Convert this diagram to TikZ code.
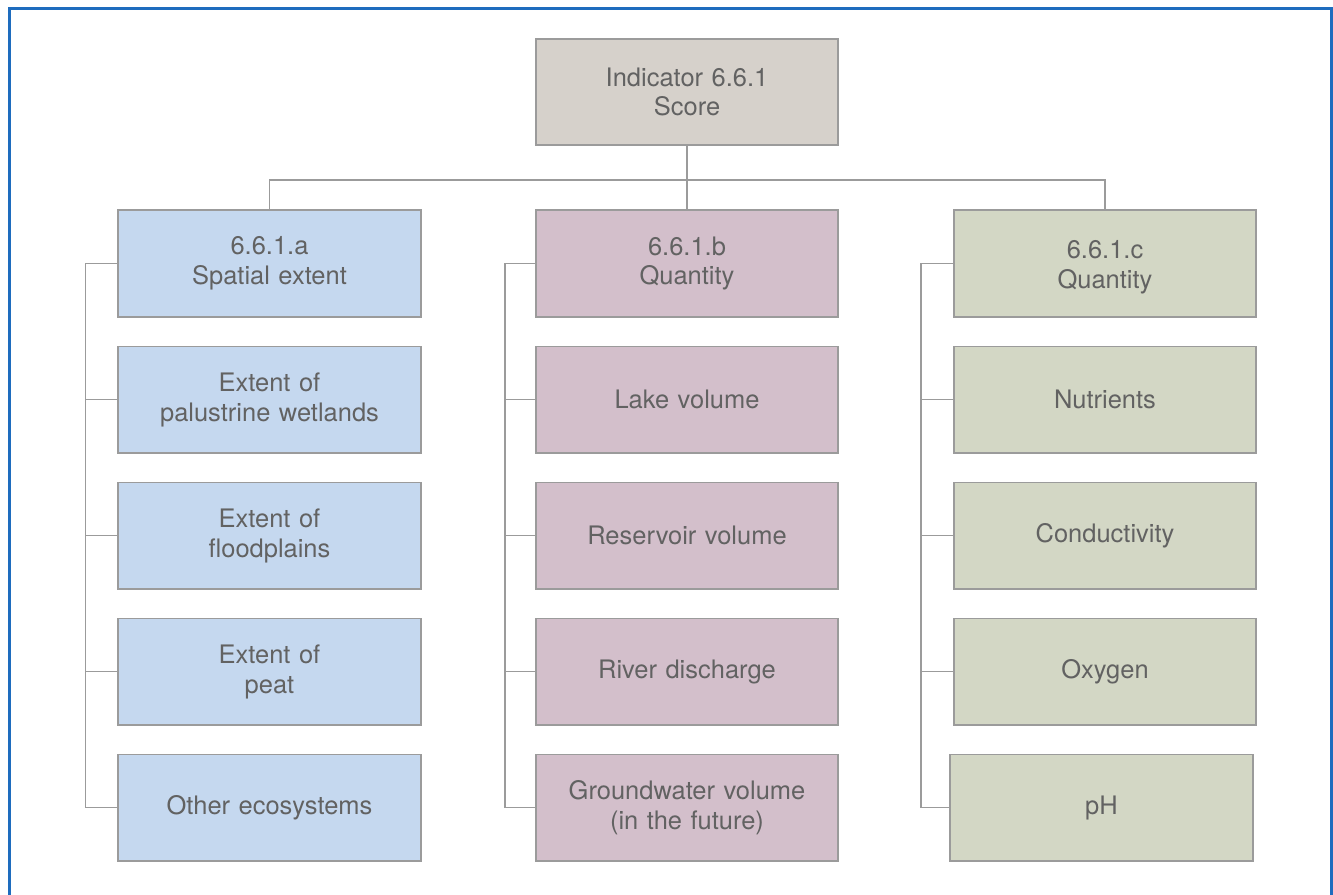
\documentclass[tikz,border=0pt]{standalone}
\usepackage{fontspec}
\setmainfont{TeX Gyre Heros}
\usetikzlibrary{positioning, chains}
\definecolor{scoregray}{RGB}{214,209,203}
\definecolor{extblue}{RGB}{197,216,239}
\definecolor{qtymauve}{RGB}{211,191,203}
\definecolor{qualgreen}{RGB}{211,215,197}
\definecolor{boxline}{RGB}{155,155,155}
\definecolor{txtgray}{RGB}{98,98,98}
\definecolor{frameblue}{RGB}{30,108,190}
\tikzset{
  box/.style={
    rectangle,
    draw=boxline,
    line width=0.9pt,
    minimum width=6.05cm,
    minimum height=2.13cm,
    text width=5.6cm,
    align=center,
    text=txtgray,
    font=\fontsize{14.5}{17}\selectfont,
    on chain},
  topbox/.style={box, fill=scoregray},
  abox/.style={box, fill=extblue},
  bbox/.style={box, fill=qtymauve},
  cbox/.style={box, fill=qualgreen},
  line/.style={draw=boxline, line width=0.85pt},
  frame/.style={draw=frameblue, line width=1.7pt},
}
\begin{document}
\begin{tikzpicture}[x=0.02cm, y=-0.02cm, node distance=0.56cm]
  \useasboundingbox (0,0) rectangle (1333,895);
  % outer frame, open at the bottom
  \draw[frame] (9.5,895) -- (9.5,8.5) -- (1331,8.5) -- (1331,895);

  % score
  \begin{scope}[start chain=T going below]
    \node [topbox, at={(687,92)}] (score) {Indicator 6.6.1\\Score};
  \end{scope}

  % spatial extent
  \begin{scope}[start chain=A going below]
    \node [abox, at={(269.5,263.5)}] (a1) {6.6.1.a\\Spatial extent};
    \node [abox] (a2) {Extent of\\palustrine wetlands};
    \node [abox] (a3) {Extent of\\floodplains};
    \node [abox] (a4) {Extent of\\peat};
    \node [abox] (a5) {Other ecosystems};
  \end{scope}

  % quantity
  \begin{scope}[start chain=B going below]
    \node [bbox, at={(687,263.5)}] (b1) {6.6.1.b\\Quantity};
    \node [bbox] (b2) {Lake volume};
    \node [bbox] (b3) {Reservoir volume};
    \node [bbox] (b4) {River discharge};
    \node [bbox] (b5) {Groundwater volume\\(in the future)};
  \end{scope}

  % quality
  \begin{scope}[start chain=C going below]
    \node [cbox, at={(1105,263.5)}] (c1) {\rule{0pt}{15pt}6.6.1.c\\Quantity};
    \node [cbox] (c2) {Nutrients};
    \node [cbox] (c3) {Conductivity};
    \node [cbox] (c4) {Oxygen};
    \node [cbox, xshift=-2] (c5) {pH};
  \end{scope}

  % tree lines
  \draw[line] (score.south) -- ++(0,34) coordinate (bar) -| (a1.north);
  \draw[line] (bar) -| (c1.north);
  \draw[line] (score.south) -- (b1.north);

  \foreach \i in {1,...,5} {
    \draw[line] (a1.west) -- ++(-32,0) |- (a\i.west);
    \draw[line] (b1.west) -- ++(-30,0) |- (b\i.west);
    \draw[line] (c1.west) -- ++(-32,0) |- (c\i.west);
  }
\end{tikzpicture}
\end{document}
